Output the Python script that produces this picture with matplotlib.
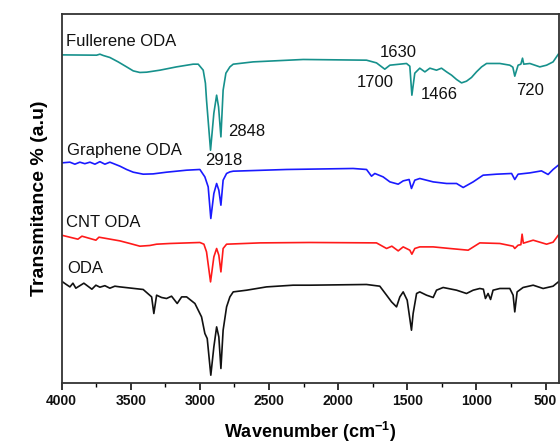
import matplotlib
matplotlib.use("Agg")
import matplotlib.pyplot as plt
from matplotlib.ticker import MultipleLocator

plt.rcParams['font.family'] = ['Liberation Sans', 'DejaVu Sans']
plt.rcParams['mathtext.fontset'] = 'custom'
plt.rcParams['mathtext.rm'] = 'Liberation Sans'
plt.rcParams['mathtext.bf'] = 'Liberation Sans:bold'

# Fullerene ODA
ful_wn = [4000, 3747, 3723, 3699, 3651, 3591, 3530, 3482, 3434, 3385, 3289, 3169, 3049,
          3012, 2976, 2960, 2952, 2923, 2899, 2879, 2865, 2848, 2832, 2812, 2783, 2759,
          2615, 2253, 1795, 1723, 1663, 1626, 1506, 1482, 1467, 1446, 1410, 1373, 1337,
          1289, 1253, 1216, 1180, 1144, 1108, 1072, 1036, 1000, 963, 927, 831, 759, 737,
          723, 699, 679, 667, 658, 614, 542, 493, 446, 408]
ful_t = [328.3, 328, 329, 327.7, 325.7, 321.3, 316.3, 312.3, 310.7, 311, 313, 316.3, 319,
         319, 313, 300, 283, 233, 270, 288, 276.3, 246.3, 293, 310, 316.3, 319,
         321.3, 323.7, 323, 320.3, 314, 318, 319.7, 317, 288, 310, 315, 311.3, 315,
         313, 315, 311.3, 308, 303.7, 300.3, 302, 305.7, 311.3, 316.3, 319.7, 319.7, 318, 316,
         307, 318, 319, 325, 319, 319.7, 316.3, 318, 321.3, 329]

# Graphene ODA
gra_wn = [4000, 3940, 3904, 3868, 3832, 3795, 3759, 3723, 3687, 3651, 3627, 3578, 3530,
          3482, 3410, 3338, 3241, 3096, 3000, 2964, 2940, 2921, 2899, 2879, 2863, 2848,
          2832, 2807, 2783, 2759, 2373, 1892, 1795, 1759, 1735, 1675, 1626, 1566, 1530,
          1487, 1470, 1446, 1410, 1313, 1216, 1144, 1096, 1024, 952, 855, 746, 723, 699,
          614, 530, 482, 446, 408]
gra_t = [220.3, 221, 219, 221, 219.5, 221, 219, 221.5, 219, 221, 219.7, 217, 213.7,
         211, 209, 209.3, 211, 213, 213.7, 206.3, 196.3, 164.7, 189.7, 199.7, 193, 178,
         203, 209.7, 211.3, 212, 213.7, 214.7, 213.7, 207, 209.7, 206.3, 201.3, 199, 202.3,
         203.7, 194.7, 203, 204.7, 201.3, 199.7, 199.7, 195.7, 201.3, 208, 209, 209.7, 203.7, 209,
         210.3, 212.3, 208.7, 213.7, 218]

# CNT ODA
cnt_wn = [4000, 3882, 3853, 3752, 3730, 3578, 3506, 3434, 3362, 3313, 3217, 3000, 2971,
          2952, 2923, 2899, 2879, 2863, 2848, 2832, 2807, 2566, 2205, 1723, 1650, 1612,
          1566, 1530, 1482, 1467, 1446, 1410, 1313, 1193, 1060, 976, 831, 735, 723, 699,
          679, 670, 661, 590, 493, 446, 408]
cnt_t = [148, 144, 147, 143, 146, 142.3, 139.7, 137, 137.7, 139, 139.7, 140.7, 139,
         131.3, 101.3, 126.3, 134.7, 128, 111.3, 134.7, 139, 140.3, 140.7, 140.3, 134.7, 137,
         132.3, 136.3, 133, 129, 134.7, 136.3, 136.3, 134.7, 133, 140.3, 139.7, 137, 134.7, 138,
         138.5, 149, 140, 143, 139, 141, 148]

# ODA
oda_wn = [4000, 3969, 3940, 3918, 3897, 3868, 3839, 3810, 3781, 3752, 3723, 3687, 3651,
          3615, 3578, 3410, 3349, 3333, 3313, 3277, 3241, 3205, 3164, 3132, 3096, 3036,
          2988, 2964, 2947, 2921, 2899, 2879, 2863, 2848, 2832, 2807, 2783, 2759, 2662,
          2518, 2326, 2205, 1795, 1699, 1650, 1614, 1578, 1554, 1530, 1501, 1470, 1458,
          1433, 1410, 1361, 1313, 1289, 1241, 1144, 1072, 1024, 976, 950, 935, 916, 898,
          880, 831, 759, 735, 723, 706, 663, 590, 518, 446, 408]
oda_t = [102, 99, 96.3, 100, 95, 97.5, 100, 97, 94, 98, 96, 97.5, 95,
         97, 96.3, 93.7, 86.3, 69.7, 88, 85.7, 84.7, 87, 79.7, 86.3, 86.3, 79.7,
         66.3, 49.7, 44.7, 8, 36.3, 56.3, 46.3, 14.7, 53, 76.3, 86.3, 91.3, 93,
         96.3, 98, 98, 98.7, 97, 88, 81.3, 76.3, 86.3, 91.3, 83, 53, 69.7,
         89.7, 91.3, 88, 85.7, 93, 95.7, 93, 89.7, 93, 94.7, 94, 84.7, 89.7, 83.7,
         93, 94.7, 94.7, 88, 71.3, 91.3, 95.7, 98, 94.7, 97, 101.3]

series_names = ["Fullerene ODA", "Graphene ODA", "CNT ODA", "ODA"]
series_colors = ["#16918c", "#1a1aff", "#ff1a1a", "#111111"]

peak_labels = ["2848", "2918", "1630", "1700", "1466", "720"]
peak_wn = [2660, 2830, 1565, 1730, 1268, 609]
peak_t = [252, 223, 331, 301, 289, 293]

name_wn = [3969, 3962, 3969, 3962]
name_t = [342, 233, 161, 115]

fig = plt.figure(figsize=(5.6, 4.43), dpi=100)
ax = fig.add_axes([0.110, 0.135, 0.889, 0.833])

data = [(ful_wn, ful_t), (gra_wn, gra_t), (cnt_wn, cnt_t), (oda_wn, oda_t)]
for (wn, t), c in zip(data, series_colors):
    ax.plot(wn, t, color=c, lw=1.2)

for name, x, y in zip(series_names, name_wn, name_t):
    ax.text(x, y, name, ha='left', va='center', fontsize=12, color='#111111')
for lab, x, y in zip(peak_labels, peak_wn, peak_t):
    ax.text(x, y, lab, ha='center', va='center', fontsize=12, color='#111111')

ax.set_xlim(4000, 400)
ax.set_ylim(0, 369)
ax.xaxis.set_major_locator(MultipleLocator(500))
ax.xaxis.set_minor_locator(MultipleLocator(250))
ax.set_yticks([])
ax.tick_params(axis='x', which='major', direction='out', length=5, width=1.2,
               labelsize=10, pad=3, colors='#111111')
ax.tick_params(axis='x', which='minor', direction='out', length=3, width=1.0)
for lab in ax.get_xticklabels():
    lab.set_fontweight('bold')
for s in ax.spines.values():
    s.set_linewidth(1.3)
    s.set_color('#333333')

ax.set_xlabel("Wavenumber (cm$^{\\mathbf{-1}}$)", fontsize=13, fontweight='bold', labelpad=8)
ax.set_ylabel("Transmitance % (a.u)", fontsize=14, fontweight='bold', labelpad=10)

fig.savefig("out.png", dpi=100)
